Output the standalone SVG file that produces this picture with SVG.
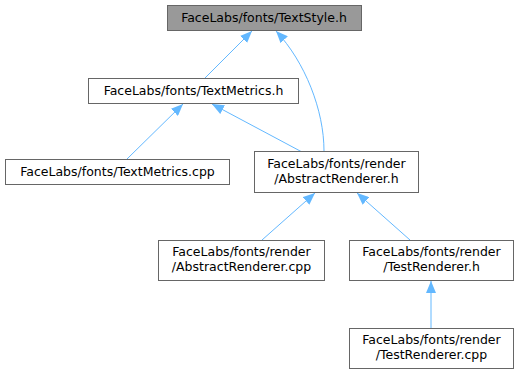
<svg xmlns="http://www.w3.org/2000/svg" width="518" height="373" viewBox="0 0 518 373">
  <style>
    .node rect { fill: #ffffff; stroke: #666666; stroke-width: 1; }
    .node.root rect { fill: #999999; }
    .node text { font-family: "DejaVu Sans", sans-serif; font-size: 12.5px; fill: #000000; text-anchor: middle; }
    .edge { fill: none; stroke: #63b8ff; stroke-width: 1; }
  </style>
  <defs>
    <marker id="arrow" viewBox="0 0 12 10" refX="12" refY="5" markerWidth="12" markerHeight="10" markerUnits="userSpaceOnUse" orient="auto">
      <path d="M0,0 L12,5 L0,10 Z" fill="#63b8ff"/>
    </marker>
  </defs>
  <rect width="518" height="373" fill="#ffffff"/>

  <g id="edges">
    <path class="edge" marker-end="url(#arrow)" d="M205,78 L252,31"/>
    <path class="edge" marker-end="url(#arrow)" d="M324,151 C324,110 305,62 276,31"/>
    <path class="edge" marker-end="url(#arrow)" d="M127,159 L183,104"/>
    <path class="edge" marker-end="url(#arrow)" d="M302,152 L212,104"/>
    <path class="edge" marker-end="url(#arrow)" d="M262,240 L315,193"/>
    <path class="edge" marker-end="url(#arrow)" d="M410,240 L357,193"/>
    <path class="edge" marker-end="url(#arrow)" d="M431,328 L431,281"/>
  </g>

  <g id="node_textstyle_h" class="node root">
    <rect x="167.5" y="5.5" width="194" height="25"/>
    <text x="264" y="22">FaceLabs/fonts/TextStyle.h</text>
  </g>
  <g id="node_textmetrics_h" class="node">
    <rect x="88.5" y="78.5" width="210" height="25"/>
    <text x="193.5" y="95">FaceLabs/fonts/TextMetrics.h</text>
  </g>
  <g id="node_textmetrics_cpp" class="node">
    <rect x="5.5" y="159.5" width="224" height="25"/>
    <text x="117.5" y="176">FaceLabs/fonts/TextMetrics.cpp</text>
  </g>
  <g id="node_abstractrenderer_h" class="node">
    <rect x="254.5" y="151.5" width="164" height="41"/>
    <text x="336.5" y="168">FaceLabs/fonts/render</text>
    <text x="336.5" y="183">/AbstractRenderer.h</text>
  </g>
  <g id="node_abstractrenderer_cpp" class="node">
    <rect x="158.5" y="240.5" width="166" height="40"/>
    <text x="241.5" y="256">FaceLabs/fonts/render</text>
    <text x="241.5" y="271">/AbstractRenderer.cpp</text>
  </g>
  <g id="node_testrenderer_h" class="node">
    <rect x="349.5" y="240.5" width="164" height="40"/>
    <text x="431.5" y="256">FaceLabs/fonts/render</text>
    <text x="431.5" y="271">/TestRenderer.h</text>
  </g>
  <g id="node_testrenderer_cpp" class="node">
    <rect x="349.5" y="328.5" width="164" height="40"/>
    <text x="431.5" y="344">FaceLabs/fonts/render</text>
    <text x="431.5" y="359">/TestRenderer.cpp</text>
  </g>
</svg>
